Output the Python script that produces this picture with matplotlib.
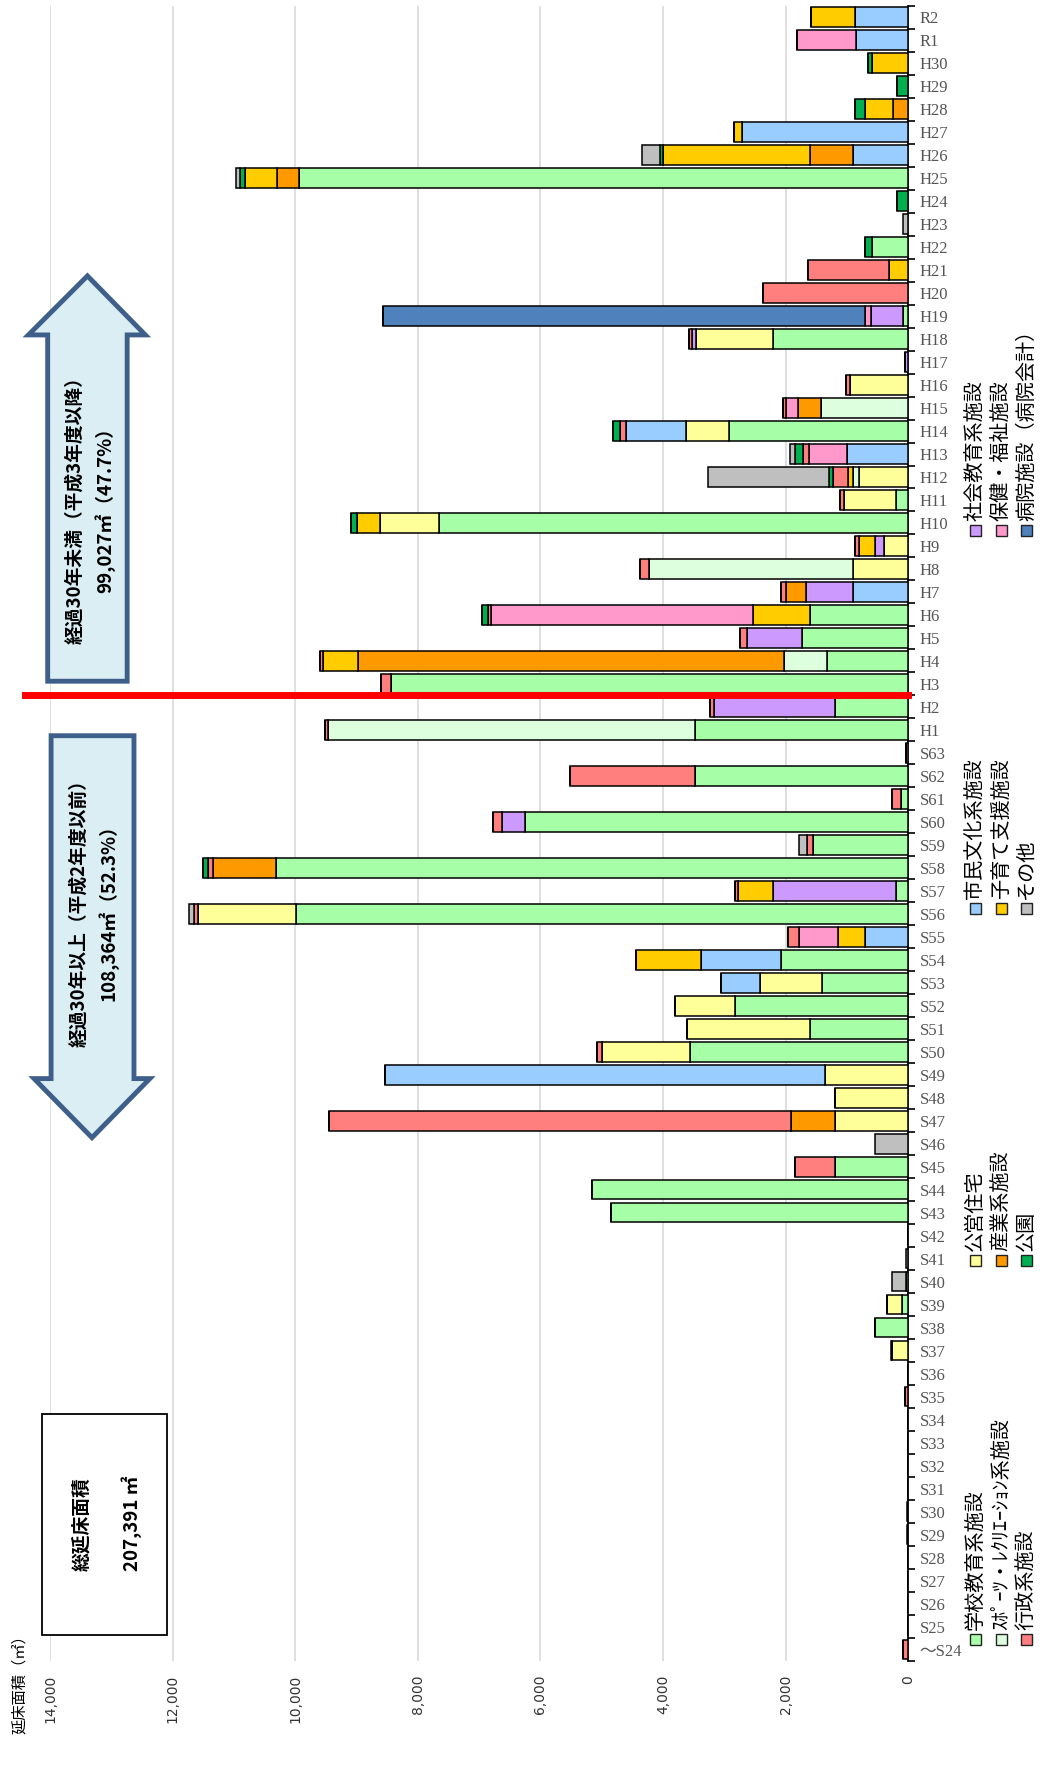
import numpy as np
import matplotlib.pyplot as plt
from matplotlib.patches import Polygon, Rectangle

plt.rcParams['font.family'] = ['Noto Sans CJK JP', 'DejaVu Sans']

categories = ['～S24'] + ['S%d' % i for i in range(25, 64)] + ['H%d' % i for i in range(1, 31)] + ['R1', 'R2']

# 延床面積（㎡）by construction year, one dict per facility type
school = {'S38': 550, 'S39': 100, 'S40': 40, 'S43': 4850, 'S44': 5160, 'S45': 1200, 'S50': 3560, 'S51': 1600,
          'S52': 2830, 'S53': 1410, 'S54': 2080, 'S56': 9980, 'S57': 200, 'S58': 10320, 'S59': 1560, 'S60': 6250,
          'S61': 120, 'S62': 3480, 'H1': 3480, 'H2': 1200, 'H3': 8430, 'H4': 1330, 'H5': 1740, 'H6': 1600,
          'H10': 7660, 'H11': 200, 'H14': 2930, 'H18': 2210, 'H19': 80, 'H22': 600, 'H25': 9930}
housing = {'S37': 260, 'S39': 250, 'S47': 1200, 'S48': 1200, 'S49': 1360, 'S50': 1430, 'S51': 2010, 'S52': 980,
           'S53': 1010, 'S56': 1600, 'H8': 900, 'H9': 400, 'H10': 950, 'H11': 850, 'H12': 800, 'H14': 690,
           'H16': 950, 'H18': 1260}
sports = {'H1': 5980, 'H4': 690, 'H8': 3330, 'H12': 100, 'H15': 1430}
culture = {'S49': 7170, 'S53': 640, 'S54': 1300, 'S55': 700, 'H7': 900, 'H13': 1000, 'H14': 990, 'H26': 900,
           'H27': 2710, 'R1': 850, 'R2': 870}
social_edu = {'S57': 2010, 'S60': 380, 'H2': 1970, 'H5': 890, 'H7': 770, 'H9': 150, 'H17': 60, 'H18': 50,
              'H19': 530}
industry = {'S47': 720, 'S58': 1020, 'H4': 6960, 'H7': 320, 'H15': 370, 'H25': 370, 'H26': 700, 'H28': 250}
childcare = {'S54': 1060, 'S55': 450, 'S57': 560, 'H4': 560, 'H6': 940, 'H9': 250, 'H10': 380, 'H12': 80,
             'H21': 320, 'H25': 520, 'H26': 2400, 'H27': 130, 'H28': 450, 'H30': 600, 'R2': 710}
welfare = {'S55': 640, 'H6': 4270, 'H13': 620, 'H15': 190, 'H19': 100, 'R1': 960}
admin = {'～S24': 80, 'S35': 50, 'S45': 650, 'S47': 7530, 'S50': 80, 'S55': 180, 'S56': 70, 'S57': 60, 'S58': 80,
         'S59': 90, 'S60': 140, 'S61': 150, 'S62': 2030, 'S63': 40, 'H1': 60, 'H2': 70, 'H3': 170, 'H4': 50,
         'H5': 120, 'H6': 50, 'H7': 80, 'H8': 140, 'H9': 70, 'H11': 70, 'H12': 250, 'H13': 100, 'H14': 100,
         'H15': 50, 'H16': 70, 'H18': 50, 'H20': 2370, 'H21': 1320}
hospital = {'H19': 7860}
park = {'S58': 80, 'H6': 100, 'H10': 100, 'H12': 60, 'H13': 130, 'H14': 100, 'H22': 100, 'H24': 180, 'H25': 80,
        'H26': 50, 'H28': 170, 'H29': 180, 'H30': 60}
other = {'S29': 20, 'S30': 20, 'S37': 20, 'S40': 220, 'S41': 30, 'S46': 550, 'S56': 80, 'S59': 130, 'H12': 1970,
         'H13': 80, 'H23': 80, 'H25': 70, 'H26': 290}

series = [
    ('学校教育系施設', school, '#A6FFA6'),
    ('公営住宅', housing, '#FFFF99'),
    ('ｽﾎﾟｰﾂ・ﾚｸﾘｴｰｼｮﾝ系施設', sports, '#DDFFDD'),
    ('市民文化系施設', culture, '#99CCFF'),
    ('社会教育系施設', social_edu, '#CC99FF'),
    ('産業系施設', industry, '#FF9900'),
    ('子育て支援施設', childcare, '#FFCC00'),
    ('保健・福祉施設', welfare, '#FF99CC'),
    ('行政系施設', admin, '#FF7F7F'),
    ('病院施設（病院会計）', hospital, '#4F81BD'),
    ('公園', park, '#00B050'),
    ('その他', other, '#BFBFBF'),
]

W, H = 1040, 1776
S = 1040 / 916  # layout measured on a reduced view


def fx(px):
    return px * S / W


def fy(py):
    return 1 - py * S / H


fig = plt.figure(figsize=(W / 100, H / 100), dpi=100)
ax = fig.add_axes([fx(44), fy(1463), fx(800) - fx(44), fy(5) - fy(1463)])

y = np.arange(len(categories))
left = np.zeros(len(categories))
for name, d, col in series:
    vals = np.array([d.get(c, 0) for c in categories], dtype=float)
    ax.barh(y, vals, left=left, height=0.85, color=col, edgecolor='black', linewidth=1.1, zorder=3)
    left += vals

ax.set_xlim(14000, 0)
ax.set_ylim(-0.5, len(categories) - 0.5)
ax.set_xticks(np.arange(0, 14001, 2000))
ax.set_xticklabels(['{:,}'.format(v) for v in range(0, 14001, 2000)], rotation=90, fontsize=10,
                   family='DejaVu Sans', color='#333333')
ax.grid(axis='x', color='#D9D9D9', linewidth=1.2, zorder=0)
ax.yaxis.tick_right()
ax.set_yticks(y)
ax.set_yticklabels(categories, family=['Liberation Serif', 'Noto Sans CJK JP'], fontsize=12, color='#555555')
ax.set_yticks(np.arange(-0.5, len(categories), 1), minor=True)
ax.tick_params(axis='y', which='minor', length=5, width=1.2, color='black', direction='out')
ax.tick_params(axis='both', which='major', length=0)
ax.tick_params(axis='x', pad=10)
ax.tick_params(axis='y', which='major', pad=8)
for s in ['top', 'left', 'bottom']:
    ax.spines[s].set_visible(False)
ax.spines['right'].set_color('black')
ax.spines['right'].set_linewidth(1.3)

# 平成2年度/3年度 boundary
h3 = categories.index('H3')
ax.plot([14400, 0], [h3 - 0.5, h3 - 0.5], color='#FF0000', linewidth=5, clip_on=False, zorder=5)

fig.text(fx(17), fy(1480), '延床面積（㎡）', rotation=90, ha='center', va='center', fontsize=11)

# legend drawn by hand (rotated chart)
leg_cols = [1444, 1110, 800, 467]
leg_rows = [859, 882, 904]
leg_order = [
    ['学校教育系施設', 'ｽﾎﾟｰﾂ・ﾚｸﾘｴｰｼｮﾝ系施設', '行政系施設'],
    ['公営住宅', '産業系施設', '公園'],
    ['市民文化系施設', '子育て支援施設', 'その他'],
    ['社会教育系施設', '保健・福祉施設', '病院施設（病院会計）'],
]
colors = {name: col for name, d, col in series}
for yc, group in zip(leg_cols, leg_order):
    for xr, name in zip(leg_rows, group):
        fig.add_artist(Rectangle((fx(xr - 5), fy(yc + 5)), 10 * S / W, 10 * S / H, transform=fig.transFigure,
                                 facecolor=colors[name], edgecolor='#222222', linewidth=1.0))
        fig.text(fx(xr), fy(yc - 8), name, rotation=90, ha='center', va='bottom', fontsize=14.5)

# block arrows
arrow_face, arrow_edge = '#DAEEF3', '#3E5F8A'
down = [(45, 648), (118, 648), (118, 950), (132, 950), (81, 1002), (30, 950), (45, 950)]
up = [(42, 600), (112, 600), (112, 295), (128, 295), (77, 243), (25, 295), (42, 295)]
for pts in (down, up):
    fig.add_artist(Polygon([(fx(a), fy(b)) for a, b in pts], closed=True, transform=fig.transFigure,
                           facecolor=arrow_face, edgecolor=arrow_edge, linewidth=3.5))
fig.text(fx(69), fy(800), '経過30年以上（平成2年度以前）', rotation=90, ha='center', va='center',
         fontsize=13.5, fontweight='bold')
fig.text(fx(95), fy(800), '108,364㎡（52.3%）', rotation=90, ha='center', va='center',
         fontsize=13.5, fontweight='bold')
fig.text(fx(66), fy(445), '経過30年未満（平成3年度以降）', rotation=90, ha='center', va='center',
         fontsize=13.5, fontweight='bold')
fig.text(fx(92), fy(445), '99,027㎡（47.7%）', rotation=90, ha='center', va='center',
         fontsize=13.5, fontweight='bold')

# total box
fig.add_artist(Rectangle((fx(37), fy(1440)), fx(147) - fx(37), fy(1245) - fy(1440), transform=fig.transFigure,
                         facecolor='white', edgecolor='black', linewidth=1.3))
fig.text(fx(72), fy(1342), '総延床面積', rotation=90, ha='center', va='center', fontsize=13.5, fontweight='bold')
fig.text(fx(116), fy(1342), '207,391 ㎡', rotation=90, ha='center', va='center', fontsize=13.5, fontweight='bold')

fig.savefig('out.png', dpi=100, facecolor='white')
